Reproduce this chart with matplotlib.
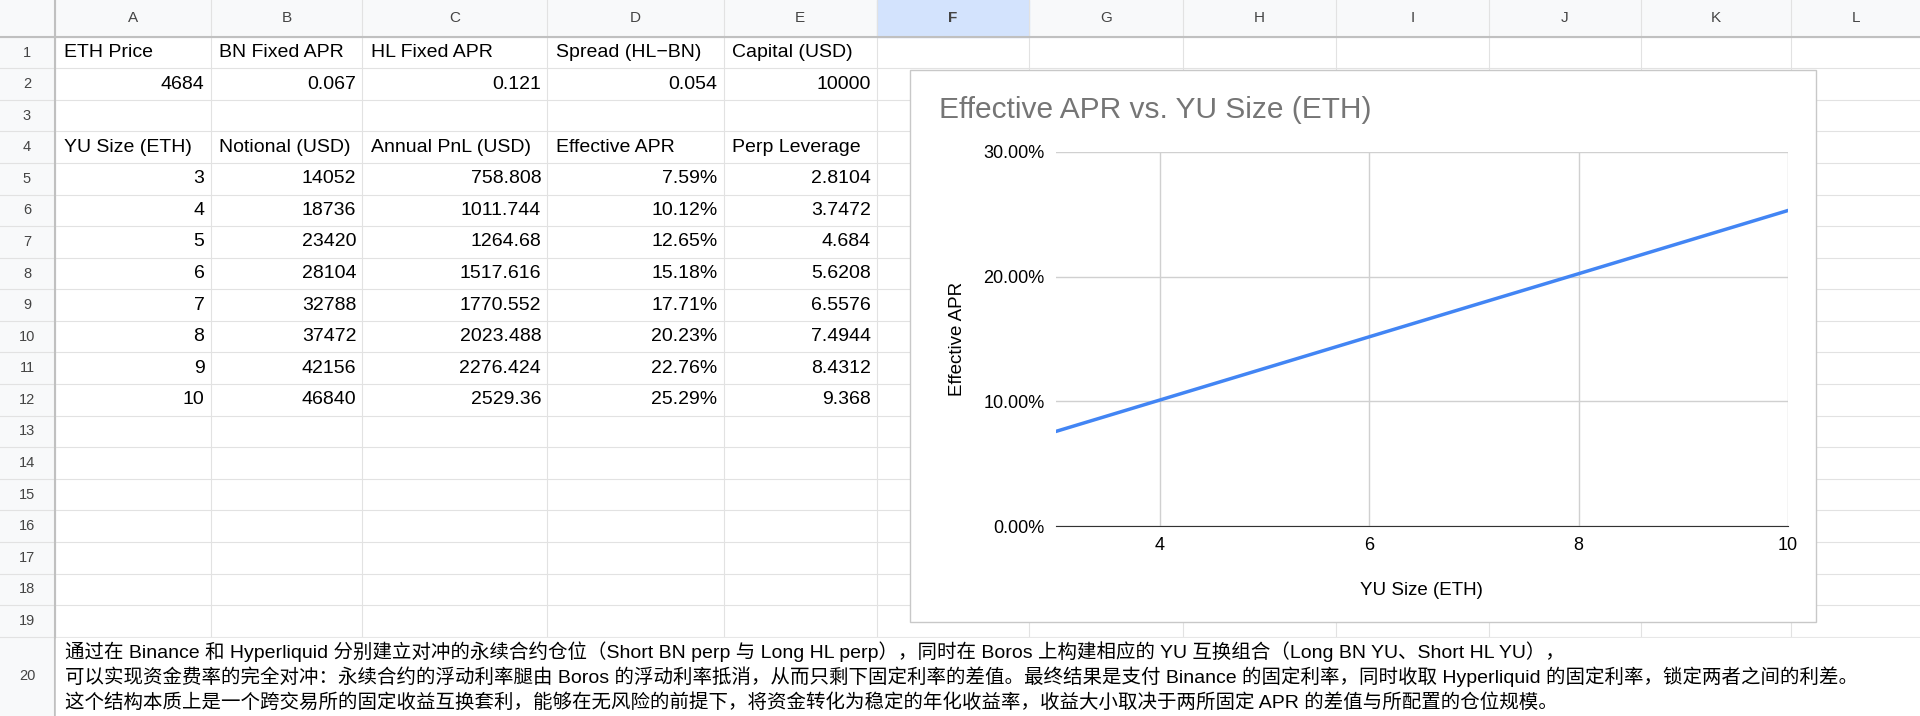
import matplotlib
matplotlib.use("Agg")
import matplotlib.pyplot as plt
from matplotlib.patches import Rectangle
from matplotlib.ticker import FuncFormatter

plt.rcParams["font.family"] = ["Liberation Sans", "Noto Sans CJK SC"]

# spreadsheet contents
col_letters = ["A", "B", "C", "D", "E", "F", "G", "H", "I", "J", "K", "L"]
param_headers = ["ETH Price", "BN Fixed APR", "HL Fixed APR", "Spread (HL\u2212BN)", "Capital (USD)"]
param_values = ["4684", "0.067", "0.121", "0.054", "10000"]
table_headers = ["YU Size (ETH)", "Notional (USD)", "Annual PnL (USD)", "Effective APR", "Perp Leverage"]
yu_size = [3, 4, 5, 6, 7, 8, 9, 10]
notional = [14052, 18736, 23420, 28104, 32788, 37472, 42156, 46840]
annual_pnl = ["758.808", "1011.744", "1264.68", "1517.616", "1770.552", "2023.488", "2276.424", "2529.36"]
effective_apr = [7.59, 10.12, 12.65, 15.18, 17.71, 20.23, 22.76, 25.29]
perp_leverage = ["2.8104", "3.7472", "4.684", "5.6208", "6.5576", "7.4944", "8.4312", "9.368"]
note_lines = [
    "通过在 Binance 和 Hyperliquid 分别建立对冲的永续合约仓位（Short BN perp 与 Long HL perp），同时在 Boros 上构建相应的 YU 互换组合（Long BN YU、Short HL YU），",
    "可以实现资金费率的完全对冲：永续合约的浮动利率腿由 Boros 的浮动利率抵消，从而只剩下固定利率的差值。最终结果是支付 Binance 的固定利率，同时收取 Hyperliquid 的固定利率，锁定两者之间的利差。",
    "这个结构本质上是一个跨交易所的固定收益互换套利，能够在无风险的前提下，将资金转化为稳定的年化收益率，收益大小取决于两所固定 APR 的差值与所配置的仓位规模。",
]

W, H = 1568, 585
col_edges = [0, 45, 172, 296, 447, 591, 716, 840, 966, 1091, 1216, 1340, 1463, 1568]
row_edges = [0, 30] + [30 + 25.8 * i for i in range(1, 20)] + [H]
grid_c = "#e2e2e2"
fs = 14

fig = plt.figure(figsize=(19.2, 7.16), dpi=100)
bg = fig.add_axes([0, 0, 1, 1])
bg.set_xlim(0, W)
bg.set_ylim(H, 0)
bg.axis("off")

# headers
bg.add_patch(Rectangle((0, 0), W, 30, color="#f8f9fa", zorder=0))
bg.add_patch(Rectangle((0, 0), 45, H, color="#f8f9fa", zorder=0))
bg.add_patch(Rectangle((716, 0), 124, 30, color="#d3e3fd", zorder=0))
for x in col_edges[1:-1]:
    bg.plot([x, x], [0, H], color=grid_c, lw=0.8, zorder=1)
for y in row_edges[1:-1]:
    bg.plot([0, W], [y, y], color=grid_c, lw=0.8, zorder=1)
bg.plot([0, W], [30, 30], color="#c0c0c0", lw=1.5, zorder=1)
bg.plot([45, 45], [0, H], color="#c0c0c0", lw=1.5, zorder=1)
for i, letter in enumerate(col_letters):
    xc = (col_edges[i + 1] + col_edges[i + 2]) / 2
    bg.text(xc, 15, letter, ha="center", va="center", fontsize=11, color="#444",
            fontweight="bold" if letter == "F" else "normal")
for r in range(1, 21):
    yc = (row_edges[r] + row_edges[r + 1]) / 2
    bg.text(22, yc, str(r), ha="center", va="center", fontsize=10.5, color="#444")


def cell(r, c, s, align="left"):
    yc = (row_edges[r] + row_edges[r + 1]) / 2
    if align == "left":
        bg.text(col_edges[c + 1] + 7, yc, s, ha="left", va="center", fontsize=fs)
    else:
        bg.text(col_edges[c + 2] - 5, yc, s, ha="right", va="center", fontsize=fs)


for c in range(5):
    cell(1, c, param_headers[c])
    cell(2, c, param_values[c], "right")
    cell(4, c, table_headers[c])
for i in range(len(yu_size)):
    r = 5 + i
    cell(r, 0, str(yu_size[i]), "right")
    cell(r, 1, str(notional[i]), "right")
    cell(r, 2, annual_pnl[i], "right")
    cell(r, 3, f"{effective_apr[i]:.2f}%", "right")
    cell(r, 4, perp_leverage[i], "right")

# note in row 20
bg.add_patch(Rectangle((46, row_edges[20] + 1), W, H, color="white", zorder=1.5))
for i, line in enumerate(note_lines):
    bg.text(53, row_edges[20] + 12 + i * 21, line, ha="left", va="center", fontsize=fs, zorder=2)

# chart box
bg.add_patch(Rectangle((743, 57), 740, 451, facecolor="white", edgecolor="#c8c8c8", lw=1, zorder=3))
bg.text(767, 90, "Effective APR vs. YU Size (ETH)", ha="left", va="center", fontsize=21.5, color="#757575", zorder=4)

ax = fig.add_axes([862 / W, 1 - 430 / H, (1460 - 862) / W, (430 - 124) / H], zorder=5)
ax.plot(yu_size, effective_apr, color="#4285f4", lw=2.5)
ax.set_xlim(3, 10)
ax.set_ylim(0, 30)
ax.set_xticks([4, 6, 8, 10])
ax.set_yticks([0, 10, 20, 30])
ax.yaxis.set_major_formatter(FuncFormatter(lambda v, p: f"{v:.2f}%"))
ax.grid(True, color="#d0d0d0", lw=1)
for s in ["top", "right", "left"]:
    ax.spines[s].set_visible(False)
ax.spines["bottom"].set_color("#333")
ax.tick_params(length=0, labelsize=13, pad=8)
ax.set_xlabel("YU Size (ETH)", fontsize=13.5, labelpad=20)
ax.set_ylabel("Effective APR", fontsize=13.5, labelpad=12)
ax.set_facecolor("white")

fig.savefig("out.png", dpi=100)
